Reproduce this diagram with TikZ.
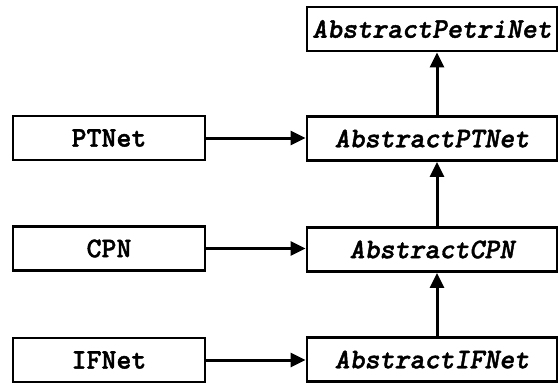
\documentclass[tikz,border=0pt]{standalone}
\usepackage{fontspec}
\newfontfamily\classfont{lmmonolt10-bold.otf}[FakeBold=1.4,ItalicFont=lmmonolt10-boldoblique.otf]
\usetikzlibrary{arrows.meta}
\begin{document}
\begin{tikzpicture}[x=1pt,y=1pt,
  classbox/.style={draw=black, line width=2.8pt, fill=white, inner sep=0pt,
    font=\fontsize{28.5}{30}\selectfont\classfont},
  concrete/.style={classbox, minimum width=192pt, minimum height=44pt},
  abstract/.style={classbox, minimum width=250pt, minimum height=44pt,
    font=\fontsize{28.5}{30}\selectfont\classfont\itshape},
  inherit/.style={line width=3pt, -{Triangle[length=15pt,width=14pt]}}]
\useasboundingbox (0,0) rectangle (558,-383);
% abstract hierarchy on the right
\node[abstract] (apn)  at (432,-29)  {AbstractPetriNet};
\node[abstract] (aptn) at (432,-138.5) {AbstractPTNet};
\node[abstract] (acpn) at (432,-249.5) {AbstractCPN};
\node[abstract] (aifn) at (432,-359.5) {AbstractIFNet};
% concrete classes on the left
\node[concrete] (ptnet) at (109,-138) {PTNet};
\node[concrete] (cpn)   at (109,-248.5) {CPN};
\node[concrete] (ifnet) at (109,-360) {IFNet};
% inheritance between abstract classes
\draw[inherit] ([xshift=5pt]aptn.north) -- ([xshift=5pt]apn.south);
\draw[inherit] ([xshift=5pt]acpn.north) -- ([xshift=5pt]aptn.south);
\draw[inherit] ([xshift=5pt]aifn.north) -- ([xshift=5pt]acpn.south);
% concrete classes extend their abstract counterparts
\draw[inherit] (ptnet.east) -- (aptn.west |- ptnet.east);
\draw[inherit] (cpn.east) -- (acpn.west |- cpn.east);
\draw[inherit] (ifnet.east) -- (aifn.west |- ifnet.east);
\end{tikzpicture}
\end{document}
